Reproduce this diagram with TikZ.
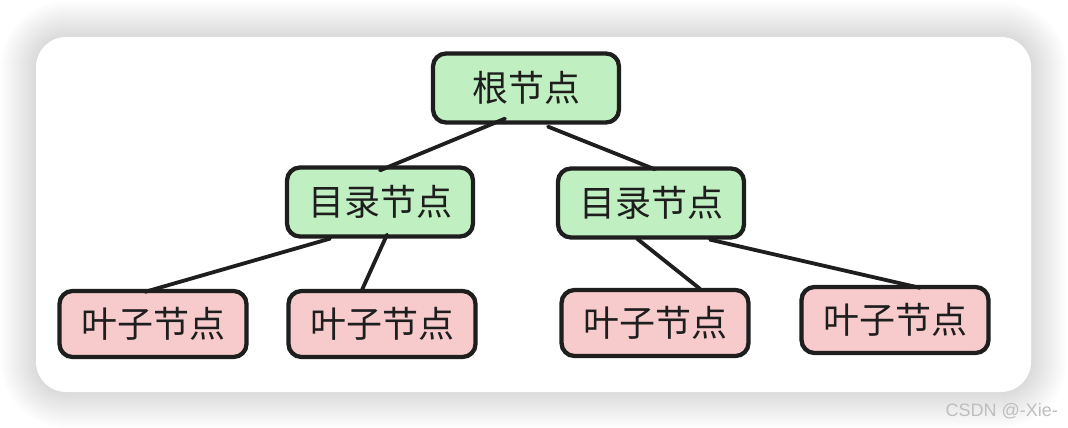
\documentclass[tikz,border=0pt]{standalone}
\usepackage{fontspec}
\newfontfamily\cjk{Noto Sans CJK SC}
\setsansfont{Liberation Sans}
\usetikzlibrary{calc}
\definecolor{gfill}{RGB}{192,240,193}
\definecolor{rfill}{RGB}{247,203,203}
\definecolor{ink}{RGB}{30,30,30}
\definecolor{wmgray}{RGB}{190,190,190}
\tikzset{
  box/.style={draw=ink, line width=4.3pt, rounded corners=13pt, inner sep=0pt,
    font=\cjk\fontsize{36}{38}\selectfont, text=ink},
  gbox/.style={box, fill=gfill, minimum width=186pt, minimum height=69pt},
  rbox/.style={box, fill=rfill, minimum width=187pt, minimum height=66pt},
  link/.style={draw=ink, line width=3.8pt, line cap=round},
}
\begin{document}
\begin{tikzpicture}[x=1pt,y=-1pt]
\useasboundingbox (0,0) rectangle (1068,428);
\fill[white] (0,0) rectangle (1068,428);
\foreach \i in {1,...,36}{
  \fill[black, opacity=0.0045, rounded corners={30pt+\i pt}] (36-\i,37-\i) rectangle (1031+\i,392+\i);
}
\fill[white, rounded corners=30pt] (36,37) rectangle (1031,392);
\node[gbox] (root) at (526,88) {根节点};
\node[gbox] (dirL) at (380,202) {目录节点};
\node[gbox] (dirR) at (651,203) {目录节点};
\node[rbox] (leafA) at (153,324) {叶子节点};
\node[rbox] (leafB) at (382,324) {叶子节点};
\node[rbox] (leafC) at (655,323) {叶子节点};
\node[rbox] (leafD) at (895,320) {叶子节点};
\draw[link] ([xshift=-21pt,yshift=6pt]root.south) -- ([yshift=-5pt]dirL.north);
\draw[link] ([xshift=22pt,yshift=-2pt]root.south) -- ([xshift=4pt,yshift=-3pt]dirR.north);
\draw[link] ([xshift=-50pt,yshift=0pt]dirL.south) -- ([xshift=-8pt,yshift=-3pt]leafA.north);
\draw[link] ([xshift=7pt,yshift=4pt]dirL.south) -- ([xshift=-20pt,yshift=-1pt]leafB.north);
\draw[link] ([xshift=-14pt,yshift=1pt]dirR.south) -- ([xshift=45pt,yshift=-1pt]leafC.north);
\draw[link] ([xshift=59pt,yshift=0pt]dirR.south) -- ([xshift=25pt,yshift=-3pt]leafD.north);
\node[font=\sffamily\fontsize{18}{20}\selectfont, text=wmgray, anchor=east, inner sep=0pt] (wm) at (1058,411) {CSDN @-Xie-};
\end{tikzpicture}
\end{document}
